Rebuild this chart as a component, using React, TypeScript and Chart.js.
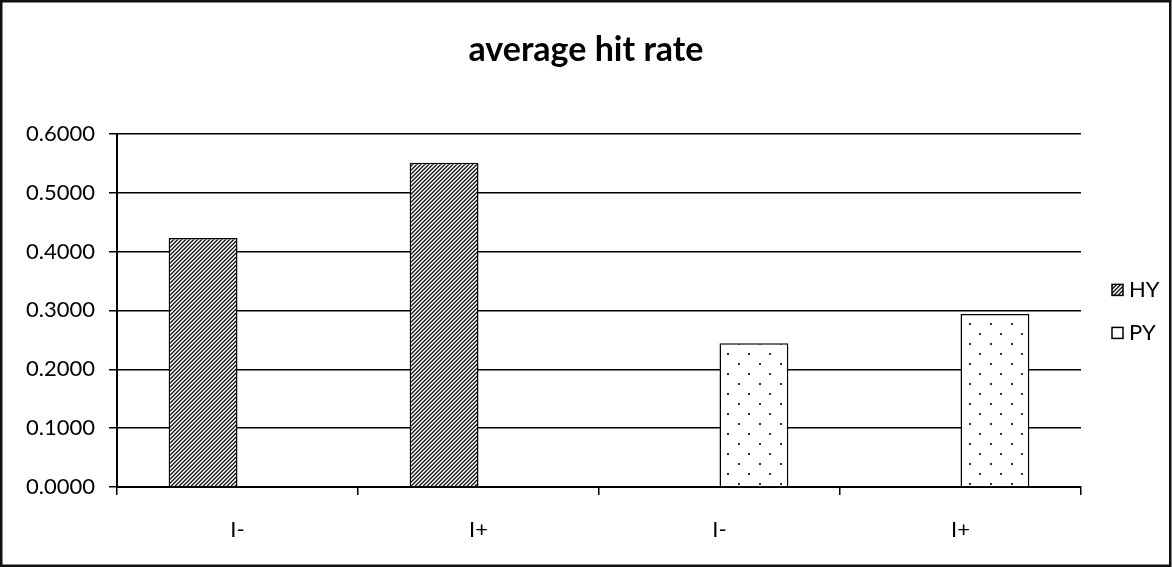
import React, { useEffect, useRef } from 'react';
import { Chart, registerables } from 'chart.js';

Chart.register(...registerables);

const categories = ['I-', 'I+', 'I-', 'I+'];
const hyValues = [0.423, 0.551, null, null];
const pyValues = [null, null, 0.244, 0.294];
const seriesNames = ['HY', 'PY'];
const yMin = 0;
const yMax = 0.6;
const yStep = 0.1;
const chartTitle = 'average hit rate';

const FONT = 'Lato';

function makeHatch(ctx: CanvasRenderingContext2D): CanvasPattern | string {
  const c = document.createElement('canvas');
  c.width = 4;
  c.height = 4;
  const g = c.getContext('2d')!;
  const img = g.createImageData(4, 4);
  for (let y = 0; y < 4; y++) {
    for (let x = 0; x < 4; x++) {
      const k = (x + y) % 4;
      const v = k === 0 ? 25 : k === 1 ? 100 : k === 3 ? 190 : 255;
      const i = (y * 4 + x) * 4;
      img.data[i] = v;
      img.data[i + 1] = v;
      img.data[i + 2] = v;
      img.data[i + 3] = 255;
    }
  }
  g.putImageData(img, 0, 0);
  return ctx.createPattern(c, 'repeat') || '#888';
}

function makeDots(ctx: CanvasRenderingContext2D): CanvasPattern | string {
  const w = 21;
  const h = 20;
  const c = document.createElement('canvas');
  c.width = w;
  c.height = h;
  const g = c.getContext('2d')!;
  g.fillStyle = '#fff';
  g.fillRect(0, 0, w, h);
  g.fillStyle = '#333';
  g.fillRect(3, 3, 2, 2);
  g.fillRect(13, 13, 2, 2);
  return ctx.createPattern(c, 'repeat') || '#fff';
}

export default function App() {
  const canvasRef = useRef<HTMLCanvasElement | null>(null);

  useEffect(() => {
    document.body.style.margin = '0';
    const canvas = canvasRef.current;
    if (!canvas) return;
    const ctx = canvas.getContext('2d')!;
    const hatch = makeHatch(ctx);
    const dots = makeDots(ctx);

    const framePlugin = {
      id: 'frame',
      beforeDraw(chart: any) {
        const c = chart.ctx;
        c.save();
        c.fillStyle = '#fff';
        c.fillRect(0, 0, chart.width, chart.height);
        c.restore();
      },
      afterDraw(chart: any) {
        const c = chart.ctx;
        c.save();
        c.strokeStyle = '#111';
        c.lineWidth = 2.5;
        c.strokeRect(1.25, 1.25, chart.width - 3, chart.height - 2.5);
        // legend
        const area = chart.chartArea;
        const mid = (area.top + area.bottom) / 2;
        const offsets = [-21, 22];
        chart.data.datasets.forEach((ds: any, i: number) => {
          const y = mid + offsets[i];
          const bx = 1112;
          c.fillStyle = ds.backgroundColor;
          c.fillRect(bx, y - 5, 11, 11);
          c.strokeStyle = '#000';
          c.lineWidth = 1.5;
          c.strokeRect(bx, y - 5, 11, 11);
          c.fillStyle = '#000';
          c.font = `22px ${FONT}`;
          c.textAlign = 'left';
          c.textBaseline = 'middle';
          c.fillText(ds.label, 1129, y + 1);
        });
        c.restore();
      },
    };

    const chart = new Chart(canvas, {
      type: 'bar',
      data: {
        labels: categories,
        datasets: [
          {
            label: seriesNames[0],
            data: hyValues,
            backgroundColor: hatch as any,
            borderColor: '#000',
            borderWidth: 1.5,
            categoryPercentage: 2 / 3.5,
            barPercentage: 1,
          },
          {
            label: seriesNames[1],
            data: pyValues,
            backgroundColor: dots as any,
            borderColor: '#000',
            borderWidth: 1.5,
            categoryPercentage: 2 / 3.5,
            barPercentage: 1,
          },
        ],
      },
      options: {
        responsive: false,
        maintainAspectRatio: false,
        animation: false,
        layout: { padding: 0 },
        plugins: {
          legend: { display: false },
          tooltip: { enabled: false },
          title: {
            display: true,
            text: chartTitle,
            color: '#000',
            font: { family: FONT, size: 34, weight: 'bold', lineHeight: 1.2 },
            padding: { top: 30, bottom: 63 },
          },
        },
        scales: {
          x: {
            grid: {
              offset: true,
              drawOnChartArea: false,
              drawTicks: true,
              tickLength: 8,
              color: '#000',
              lineWidth: 1.5,
            },
            border: { color: '#000', width: 2 },
            ticks: {
              color: '#000',
              font: { family: FONT, size: 22 },
              padding: 22,
              maxRotation: 0,
              autoSkip: false,
            },
            afterFit: (s: any) => {
              s.height = 80;
            },
          },
          y: {
            min: yMin,
            max: yMax,
            grid: { color: '#000', lineWidth: 1.5, tickLength: 8 },
            border: { color: '#000', width: 2 },
            ticks: {
              stepSize: yStep,
              color: '#000',
              font: { family: FONT, size: 22 },
              padding: 14,
              callback: (v: any) => Number(v).toFixed(4),
            },
            afterFit: (s: any) => {
              s.width = 117;
            },
          },
          yRight: {
            type: 'linear',
            position: 'right',
            grid: { display: false },
            border: { display: false },
            ticks: { display: false },
            afterFit: (s: any) => {
              s.width = 91;
            },
          },
        },
      },
      plugins: [framePlugin],
    });

    return () => chart.destroy();
  }, []);

  return (
    <div style={{ width: 1172, height: 567 }}>
      <canvas ref={canvasRef} width={1172} height={567} style={{ display: 'block' }} />
    </div>
  );
}
